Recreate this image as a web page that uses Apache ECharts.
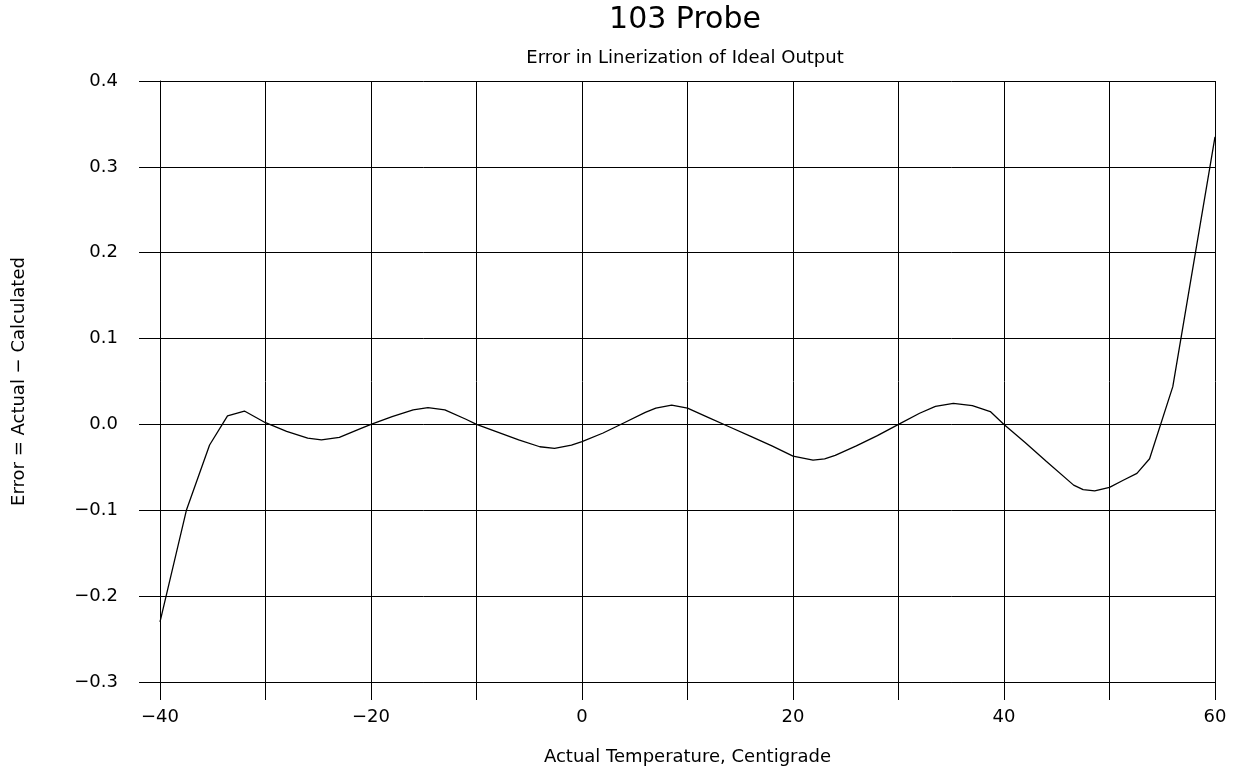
<!DOCTYPE html>
<html>
<head>
<meta charset="utf-8">
<title>103 Probe</title>
<script src="https://cdn.jsdelivr.net/npm/echarts@6/dist/echarts.min.js"></script>
<style>
  html, body { margin: 0; padding: 0; background: #fff; }
  #container { width: 1238px; height: 772px; }
</style>
</head>
<body>
<div id="container"></div>
<script>
var temps = [-40, -37.5, -35.3, -33.6, -32, -30, -28, -26, -24.7, -23, -21, -20,
  -18, -16, -14.6, -13, -11, -10, -8, -6, -4, -2.6, -1, 0, 2, 4, 6, 7, 8.5, 10,
  12, 14, 16, 18, 20, 21.9, 23, 24, 26, 28, 30, 32, 33.5, 35.2, 37, 38.7, 40,
  42, 44, 46.6, 47.5, 48.6, 50, 51.3, 52.6, 53.8, 56, 60];
var errors = [-0.230, -0.100, -0.024, 0.010, 0.0156, 0.002, -0.008, -0.016, -0.018, -0.015, -0.005, 0.0,
  0.009, 0.017, 0.0195, 0.017, 0.006, 0.0, -0.009, -0.018, -0.026, -0.028, -0.024, -0.020, -0.010, 0.002, 0.014, 0.019, 0.0225, 0.019,
  0.008, -0.003, -0.014, -0.025, -0.037, -0.0415, -0.040, -0.036, -0.025, -0.013, 0.0, 0.013, 0.021, 0.0246, 0.022, 0.015, 0.0,
  -0.021, -0.043, -0.0707, -0.076, -0.0773, -0.0733, -0.065, -0.057, -0.040, 0.044, 0.335];

var xTicks = [-40, -20, 0, 20, 40, 60];

var font = '"DejaVu Sans", sans-serif';

function minus(s) {
  return String(s).replace('-', '\u2212');
}

var points = temps.map(function (t, i) { return [t, errors[i]]; });

var chart = echarts.init(document.getElementById('container'));

var option = {
  animation: false,
  backgroundColor: '#fff',
  title: {
    text: '103 Probe',
    subtext: 'Error in Linerization of Ideal Output',
    left: 680,
    textAlign: 'center',
    top: 0,
    itemGap: 14,
    textStyle: { fontFamily: font, fontSize: 30, fontWeight: 'normal', color: '#000' },
    subtextStyle: { fontFamily: font, fontSize: 18, color: '#000' }
  },
  grid: { left: 160, right: 23, top: 81, bottom: 90, containLabel: false },
  xAxis: {
    type: 'value',
    min: -40,
    max: 60,
    interval: 10,
    name: 'Actual Temperature, Centigrade',
    nameLocation: 'middle',
    nameGap: 66,
    nameTextStyle: { fontFamily: font, fontSize: 18, color: '#000' },
    axisLine: { show: true, onZero: false, lineStyle: { color: '#000', width: 1 } },
    axisTick: { show: true, inside: false, length: 18, lineStyle: { color: '#000', width: 1 } },
    axisLabel: {
      margin: 26,
      fontFamily: font,
      fontSize: 18,
      color: '#000',
      formatter: function (v) {
        return xTicks.indexOf(v) >= 0 ? minus(v) : '';
      }
    },
    splitLine: { show: true, lineStyle: { color: '#000', width: 1 } }
  },
  yAxis: {
    type: 'value',
    min: -0.3,
    max: 0.4,
    interval: 0.1,
    name: 'Error = Actual \u2212 Calculated',
    nameLocation: 'middle',
    nameGap: 132,
    nameTextStyle: { fontFamily: font, fontSize: 18, color: '#000' },
    axisLine: { show: true, onZero: false, lineStyle: { color: '#000', width: 1 } },
    axisTick: { show: true, inside: false, length: 21, lineStyle: { color: '#000', width: 1 } },
    axisLabel: {
      margin: 42,
      fontFamily: font,
      fontSize: 18,
      color: '#000',
      formatter: function (v) { return minus(v.toFixed(1)); }
    },
    splitLine: { show: true, lineStyle: { color: '#000', width: 1 } }
  },
  series: [{
    type: 'line',
    data: points,
    showSymbol: false,
    smooth: false,
    lineStyle: { color: '#000', width: 1.3 }
  }]
};

chart.setOption(option);
</script>
</body>
</html>
